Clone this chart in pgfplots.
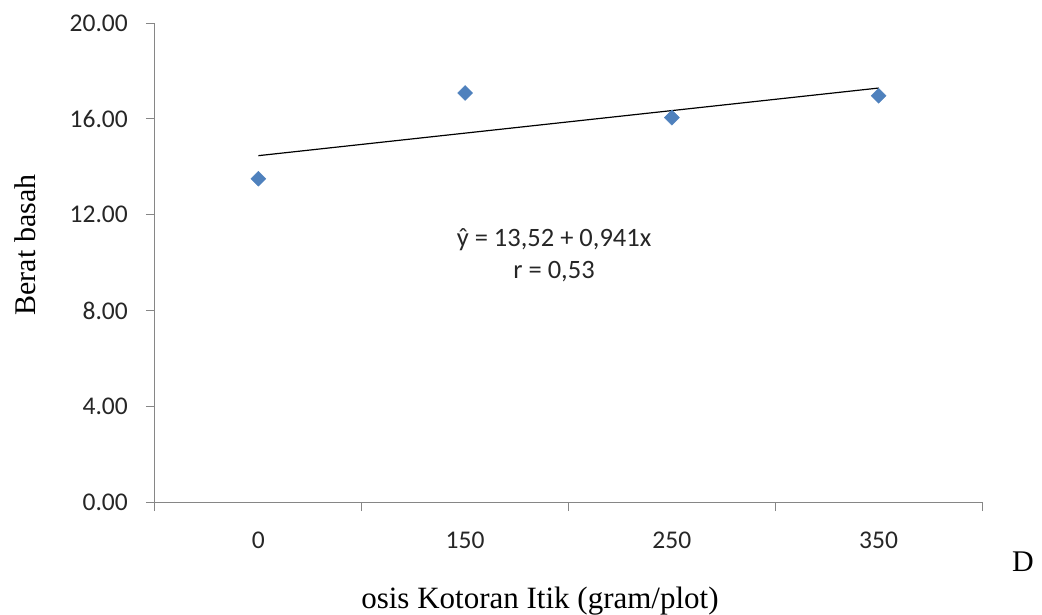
\documentclass[border=0pt]{standalone}
\usepackage{fontspec}
\setmainfont{Liberation Serif}
\newfontfamily\calib{Carlito}
\usepackage{pgfplots}
\pgfplotsset{compat=1.18}
\definecolor{axgray}{HTML}{868686}
\definecolor{mblue}{HTML}{4F81BD}
\definecolor{tickgray}{HTML}{262626}
\begin{document}
\begin{tikzpicture}
\begin{axis}[
  scale only axis, width=827pt, height=479pt,
  xmin=0.5, xmax=4.5, ymin=0, ymax=20,
  axis x line*=bottom, axis y line*=left,
  axis line style={axgray, line width=1pt},
  clip=false,
  tick align=outside,
  major tick length=9pt,
  tick style={axgray, line width=1pt},
  xtick={0.5,1.5,2.5,3.5,4.5},
  xticklabels={},
  extra x ticks={1,2,3,4},
  extra x tick labels={0,150,250,350},
  extra x tick style={major tick length=0pt, xticklabel style={anchor=center, yshift=-38pt}},
  ytick={0,4,8,12,16,20},
  /pgf/number format/fixed, /pgf/number format/fixed zerofill, /pgf/number format/precision=2,
  /pgf/number format/assume math mode=true,
  yticklabel style={anchor=east, inner sep=0pt, xshift=-18pt},
  ticklabel style={font=\calib\fontsize{25.5}{30}\selectfont, text=tickgray},
]
\addplot[black, line width=1.2pt] coordinates {(1,14.461) (4,17.284)};
\addplot[only marks, mark=square*, mark size=5.3pt, mark options={rotate=45, fill=mblue, draw=mblue}] coordinates {
  (1,13.50) (2,17.08) (3,16.05) (4,16.96)
};
\node[anchor=base, font=\calib\fontsize{26.5}{30}\selectfont, text=tickgray] at (axis cs:2.43,10.65) {ŷ = 13,52 + 0,941x};
\node[anchor=base, font=\calib\fontsize{26.5}{30}\selectfont, text=tickgray] at (axis cs:2.43,9.35) {r = 0,53};
\node[rotate=90, anchor=base, font=\fontsize{30}{36}\selectfont] at (rel axis cs:-0.1451,0.5365) {Berat basah};
\node[anchor=base, font=\fontsize{31}{36}\selectfont] at (rel axis cs:0.4655,-0.2213) {osis Kotoran Itik (gram/plot)};
\node[anchor=base west, inner sep=0pt, font=\fontsize{30}{36}\selectfont] at (rel axis cs:1.0363,-0.1461) {D};
\end{axis}
\pgfresetboundingbox
\path[use as bounding box] (current axis.south west) ++(-155pt,-112pt) rectangle ++(1042pt,614pt);
\end{tikzpicture}
\end{document}
